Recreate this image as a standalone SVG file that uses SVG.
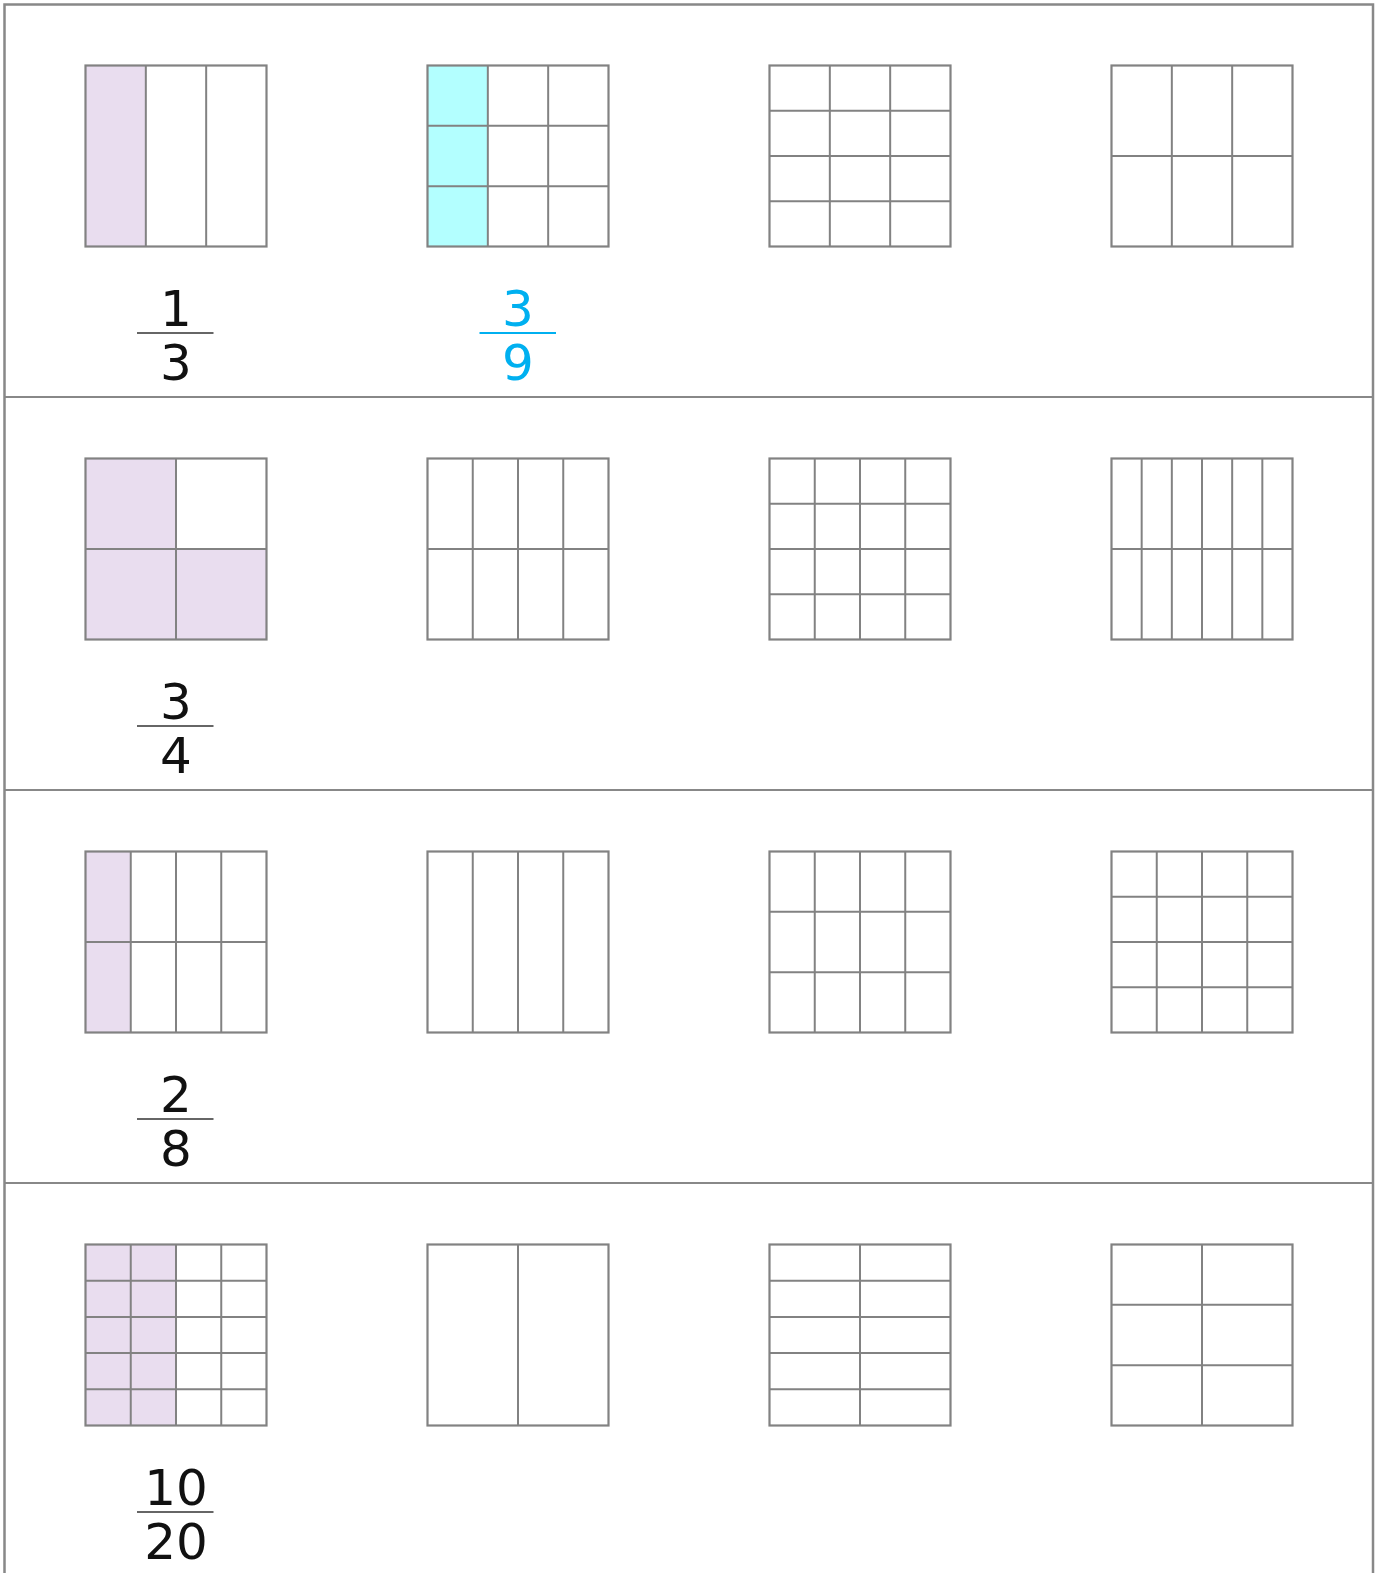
<svg xmlns="http://www.w3.org/2000/svg" width="1381" height="1573" viewBox="0 0 1381 1573">
<style>
.bg{fill:#ffffff}
.frame{fill:none;stroke:#888888;stroke-width:2.5}
.sep{stroke:#888888;stroke-width:2}
.box{fill:none;stroke:#828282;stroke-width:2.2}
.ln{stroke:#828282;stroke-width:2}
.pur{fill:#E9DDEF}
.cya{fill:#B3FFFF}
.num{font-family:"DejaVu Sans","Liberation Sans",sans-serif;font-size:50px;text-anchor:middle;fill:#111111}
.blue{fill:#00B0F0}
.bar{stroke:#333333;stroke-width:1.6}
.bbar{stroke:#00B0F0;stroke-width:2.2}
</style>
<rect class="bg" x="0" y="0" width="1381" height="1573"/>
<g id="frame">
<rect class="frame" x="4.5" y="4.5" width="1368.5" height="1580"/>
<line class="sep" x1="4" y1="397" x2="1373" y2="397"/>
<line class="sep" x1="4" y1="790" x2="1373" y2="790"/>
<line class="sep" x1="4" y1="1183" x2="1373" y2="1183"/>
</g>

<!-- Row 1 -->
<g id="r1c1" transform="translate(85.5,65.5)">
<rect class="pur" x="0" y="0" width="60.33" height="181"/>
<line class="ln" x1="60.33" y1="0" x2="60.33" y2="181"/>
<line class="ln" x1="120.67" y1="0" x2="120.67" y2="181"/>
<rect class="box" x="0" y="0" width="181" height="181"/>
</g>
<g id="r1c2" transform="translate(427.5,65.5)">
<rect class="cya" x="0" y="0" width="60.33" height="181"/>
<line class="ln" x1="60.33" y1="0" x2="60.33" y2="181"/>
<line class="ln" x1="120.67" y1="0" x2="120.67" y2="181"/>
<line class="ln" x1="0" y1="60.33" x2="181" y2="60.33"/>
<line class="ln" x1="0" y1="120.67" x2="181" y2="120.67"/>
<rect class="box" x="0" y="0" width="181" height="181"/>
</g>
<g id="r1c3" transform="translate(769.5,65.5)">
<line class="ln" x1="60.33" y1="0" x2="60.33" y2="181"/>
<line class="ln" x1="120.67" y1="0" x2="120.67" y2="181"/>
<line class="ln" x1="0" y1="45.25" x2="181" y2="45.25"/>
<line class="ln" x1="0" y1="90.5" x2="181" y2="90.5"/>
<line class="ln" x1="0" y1="135.75" x2="181" y2="135.75"/>
<rect class="box" x="0" y="0" width="181" height="181"/>
</g>
<g id="r1c4" transform="translate(1111.5,65.5)">
<line class="ln" x1="60.33" y1="0" x2="60.33" y2="181"/>
<line class="ln" x1="120.67" y1="0" x2="120.67" y2="181"/>
<line class="ln" x1="0" y1="90.5" x2="181" y2="90.5"/>
<rect class="box" x="0" y="0" width="181" height="181"/>
</g>
<g id="f1">
<text class="num" x="176" y="326">1</text>
<line class="bar" x1="137" y1="333" x2="213.5" y2="333"/>
<text class="num" x="176" y="380">3</text>
</g>
<g id="f1b">
<text class="num blue" x="518" y="326">3</text>
<line class="bbar" x1="479.5" y1="333" x2="556" y2="333"/>
<text class="num blue" x="518" y="380">9</text>
</g>

<!-- Row 2 -->
<g id="r2c1" transform="translate(85.5,458.5)">
<rect class="pur" x="0" y="0" width="90.5" height="181"/>
<rect class="pur" x="90.5" y="90.5" width="90.5" height="90.5"/>
<line class="ln" x1="90.5" y1="0" x2="90.5" y2="181"/>
<line class="ln" x1="0" y1="90.5" x2="181" y2="90.5"/>
<rect class="box" x="0" y="0" width="181" height="181"/>
</g>
<g id="r2c2" transform="translate(427.5,458.5)">
<line class="ln" x1="45.25" y1="0" x2="45.25" y2="181"/>
<line class="ln" x1="90.5" y1="0" x2="90.5" y2="181"/>
<line class="ln" x1="135.75" y1="0" x2="135.75" y2="181"/>
<line class="ln" x1="0" y1="90.5" x2="181" y2="90.5"/>
<rect class="box" x="0" y="0" width="181" height="181"/>
</g>
<g id="r2c3" transform="translate(769.5,458.5)">
<line class="ln" x1="45.25" y1="0" x2="45.25" y2="181"/>
<line class="ln" x1="90.5" y1="0" x2="90.5" y2="181"/>
<line class="ln" x1="135.75" y1="0" x2="135.75" y2="181"/>
<line class="ln" x1="0" y1="45.25" x2="181" y2="45.25"/>
<line class="ln" x1="0" y1="90.5" x2="181" y2="90.5"/>
<line class="ln" x1="0" y1="135.75" x2="181" y2="135.75"/>
<rect class="box" x="0" y="0" width="181" height="181"/>
</g>
<g id="r2c4" transform="translate(1111.5,458.5)">
<line class="ln" x1="30.17" y1="0" x2="30.17" y2="181"/>
<line class="ln" x1="60.33" y1="0" x2="60.33" y2="181"/>
<line class="ln" x1="90.5" y1="0" x2="90.5" y2="181"/>
<line class="ln" x1="120.67" y1="0" x2="120.67" y2="181"/>
<line class="ln" x1="150.83" y1="0" x2="150.83" y2="181"/>
<line class="ln" x1="0" y1="90.5" x2="181" y2="90.5"/>
<rect class="box" x="0" y="0" width="181" height="181"/>
</g>
<g id="f2">
<text class="num" x="176" y="719">3</text>
<line class="bar" x1="137" y1="726" x2="213.5" y2="726"/>
<text class="num" x="176" y="773">4</text>
</g>

<!-- Row 3 -->
<g id="r3c1" transform="translate(85.5,851.5)">
<rect class="pur" x="0" y="0" width="45.25" height="181"/>
<line class="ln" x1="45.25" y1="0" x2="45.25" y2="181"/>
<line class="ln" x1="90.5" y1="0" x2="90.5" y2="181"/>
<line class="ln" x1="135.75" y1="0" x2="135.75" y2="181"/>
<line class="ln" x1="0" y1="90.5" x2="181" y2="90.5"/>
<rect class="box" x="0" y="0" width="181" height="181"/>
</g>
<g id="r3c2" transform="translate(427.5,851.5)">
<line class="ln" x1="45.25" y1="0" x2="45.25" y2="181"/>
<line class="ln" x1="90.5" y1="0" x2="90.5" y2="181"/>
<line class="ln" x1="135.75" y1="0" x2="135.75" y2="181"/>
<rect class="box" x="0" y="0" width="181" height="181"/>
</g>
<g id="r3c3" transform="translate(769.5,851.5)">
<line class="ln" x1="45.25" y1="0" x2="45.25" y2="181"/>
<line class="ln" x1="90.5" y1="0" x2="90.5" y2="181"/>
<line class="ln" x1="135.75" y1="0" x2="135.75" y2="181"/>
<line class="ln" x1="0" y1="60.33" x2="181" y2="60.33"/>
<line class="ln" x1="0" y1="120.67" x2="181" y2="120.67"/>
<rect class="box" x="0" y="0" width="181" height="181"/>
</g>
<g id="r3c4" transform="translate(1111.5,851.5)">
<line class="ln" x1="45.25" y1="0" x2="45.25" y2="181"/>
<line class="ln" x1="90.5" y1="0" x2="90.5" y2="181"/>
<line class="ln" x1="135.75" y1="0" x2="135.75" y2="181"/>
<line class="ln" x1="0" y1="45.25" x2="181" y2="45.25"/>
<line class="ln" x1="0" y1="90.5" x2="181" y2="90.5"/>
<line class="ln" x1="0" y1="135.75" x2="181" y2="135.75"/>
<rect class="box" x="0" y="0" width="181" height="181"/>
</g>
<g id="f3">
<text class="num" x="176" y="1112">2</text>
<line class="bar" x1="137" y1="1119" x2="213.5" y2="1119"/>
<text class="num" x="176" y="1166">8</text>
</g>

<!-- Row 4 -->
<g id="r4c1" transform="translate(85.5,1244.5)">
<rect class="pur" x="0" y="0" width="90.5" height="181"/>
<line class="ln" x1="45.25" y1="0" x2="45.25" y2="181"/>
<line class="ln" x1="90.5" y1="0" x2="90.5" y2="181"/>
<line class="ln" x1="135.75" y1="0" x2="135.75" y2="181"/>
<line class="ln" x1="0" y1="36.2" x2="181" y2="36.2"/>
<line class="ln" x1="0" y1="72.4" x2="181" y2="72.4"/>
<line class="ln" x1="0" y1="108.6" x2="181" y2="108.6"/>
<line class="ln" x1="0" y1="144.8" x2="181" y2="144.8"/>
<rect class="box" x="0" y="0" width="181" height="181"/>
</g>
<g id="r4c2" transform="translate(427.5,1244.5)">
<line class="ln" x1="90.5" y1="0" x2="90.5" y2="181"/>
<rect class="box" x="0" y="0" width="181" height="181"/>
</g>
<g id="r4c3" transform="translate(769.5,1244.5)">
<line class="ln" x1="90.5" y1="0" x2="90.5" y2="181"/>
<line class="ln" x1="0" y1="36.2" x2="181" y2="36.2"/>
<line class="ln" x1="0" y1="72.4" x2="181" y2="72.4"/>
<line class="ln" x1="0" y1="108.6" x2="181" y2="108.6"/>
<line class="ln" x1="0" y1="144.8" x2="181" y2="144.8"/>
<rect class="box" x="0" y="0" width="181" height="181"/>
</g>
<g id="r4c4" transform="translate(1111.5,1244.5)">
<line class="ln" x1="90.5" y1="0" x2="90.5" y2="181"/>
<line class="ln" x1="0" y1="60.33" x2="181" y2="60.33"/>
<line class="ln" x1="0" y1="120.67" x2="181" y2="120.67"/>
<rect class="box" x="0" y="0" width="181" height="181"/>
</g>
<g id="f4">
<text class="num" x="176" y="1505">10</text>
<line class="bar" x1="137" y1="1512" x2="213.5" y2="1512"/>
<text class="num" x="176" y="1559">20</text>
</g>
</svg>
